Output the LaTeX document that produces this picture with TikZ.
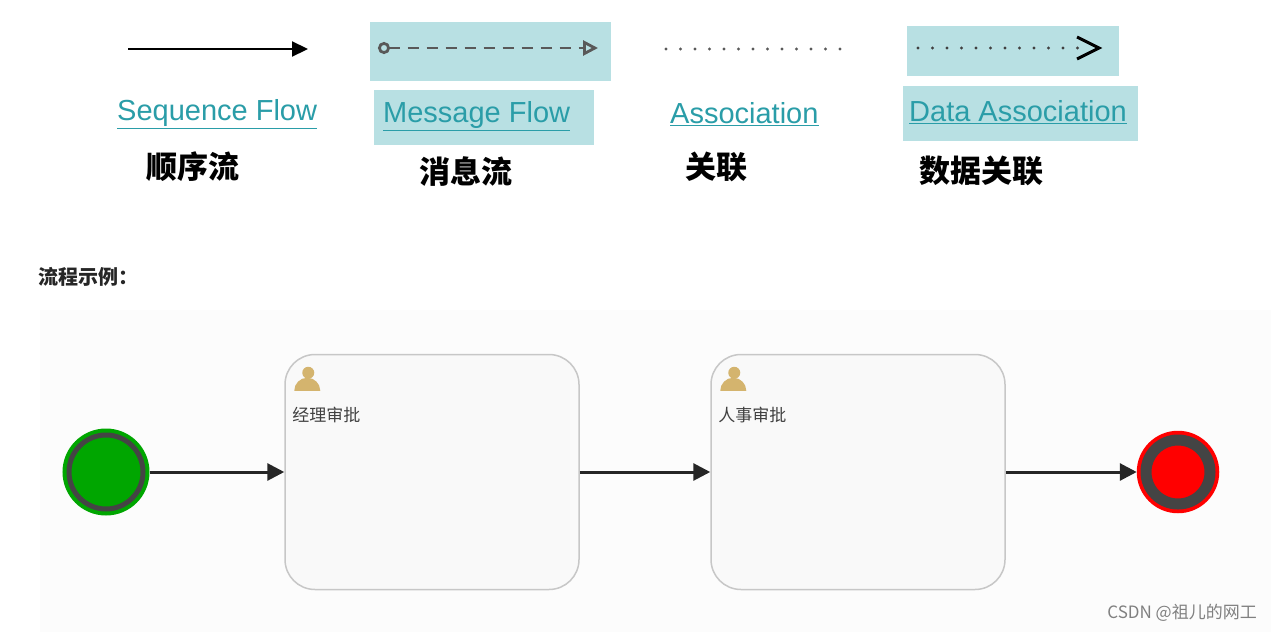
\documentclass[tikz,border=0pt]{standalone}
\usepackage{fontspec}
\setmainfont{Liberation Sans}
\newfontfamily\cjk{Noto Sans CJK SC}
\usetikzlibrary{arrows.meta}
\definecolor{teal1}{HTML}{B8E0E3}
\definecolor{link}{HTML}{2A9DA8}
\definecolor{ring}{HTML}{444444}
\definecolor{person}{HTML}{D4B46E}
\begin{document}
\begin{tikzpicture}[x=1pt,y=-1pt,
  hl/.style={fill=teal1,draw=none},
  lnk/.style={text=link,font=\fontsize{29}{30}\selectfont,anchor=west,inner sep=0pt},
  zh/.style={font=\cjk\bfseries\fontsize{31}{33}\selectfont,inner sep=0pt},
  task/.style={draw=black!22,fill=black!2.5,rounded corners=30pt,line width=1.5pt,minimum width=294pt,minimum height=235pt,inner sep=0pt},
  flow/.style={line width=3pt,draw=black!85,-{Triangle[length=17pt,width=17pt]}},
  tlab/.style={font=\cjk\fontsize{17}{18}\selectfont,text=black!75,anchor=west,inner sep=0pt}]
\useasboundingbox (0,0) rectangle (1271,632);
\fill[white] (0,0) rectangle (1271,632);
\fill[blue!3!black!1] (40,310) rectangle (1271,632);
% legend
\coordinate (s1) at (128,49); \coordinate (s2) at (308,49);
\draw[line width=2.2pt,-{Triangle[length=16pt,width=15pt]}] (s1) -- (s2);
\node[lnk] (sf) at (117,114) {\underline{Sequence Flow}};
\node[zh] (z1) at (193,167) {顺序流};
\fill[hl] (370,22) rectangle (611,81);
\coordinate (m1) at (378,48); \coordinate (m2) at (598,48);
\draw[line width=2.8pt,black!65,dash pattern=on 11pt off 8pt,{Circle[open,length=12pt,width=12pt]}-{Triangle[open,length=15pt,width=15pt]}] (m1) -- (m2);
\fill[hl] (374,90) rectangle (594,145);
\node[lnk] (mf) at (383,116) {\underline{Message Flow}};
\node[zh] (z2) at (466,172) {消息流};
\coordinate (a1) at (666,49); \coordinate (a2) at (842,49);
\draw[line width=3.2pt,black!65,line cap=round,dash pattern=on 0pt off 14.5pt] (a1) -- (a2);
\node[lnk] (as) at (670,114) {\underline{Association}};
\node[zh] (z3) at (716,167) {关联};
\fill[hl] (907,26) rectangle (1119,76);
\coordinate (d1) at (918,48); \coordinate (d2) at (1100,48);
\draw[line width=3.2pt,black!75,line cap=round,dash pattern=on 0pt off 14.5pt] (d1) -- (1090,48);
\draw[line width=3pt,line join=miter] (1077,37) -- (1099,48) -- (1077,59);
\fill[hl] (903,86) rectangle (1138,141);
\node[lnk] (da) at (909,112) {\underline{Data Association}};
\node[zh] (z4) at (981,171) {数据关联};
\node[font=\cjk\bfseries\fontsize{20}{22}\selectfont,anchor=west,inner sep=0pt,text=black!85] (ex) at (38,277) {流程示例：};
% process
\node[circle,fill=green!65!black,draw=green!65!black,line width=3pt,minimum size=84pt,inner sep=0pt] (start) at (106,472) {};
\draw[ring,line width=5pt] (start.center) circle (37pt);
\node[task] (t1) at (432,472) {};
\node[task] (t2) at (858,472) {};
\node[circle,fill=red,draw=red,line width=2.5pt,minimum size=80pt,inner sep=0pt] (end) at (1178,472) {};
\draw[ring,line width=11pt] (end.center) circle (32pt);
\foreach \t/\l in {t1/经理审批,t2/人事审批}{
  \node[tlab] (\t l) at ([xshift=8pt,yshift=-61pt]\t.north west) {\l};
  \fill[person] ([xshift=24pt,yshift=-19pt]\t.north west) circle (6pt);
  \fill[person] ([xshift=10pt,yshift=-37pt]\t.north west) arc[start angle=180,end angle=0,radius=13pt] -- cycle;
}
\draw[flow] (start) -- (t1);
\draw[flow] (t1) -- (t2);
\draw[flow] (t2) -- (end);
\node[font=\cjk\fontsize{17}{18}\selectfont,text=black!50,anchor=east,inner sep=0pt] (wm) at (1257,613) {CSDN @祖儿的网工};
\end{tikzpicture}
\end{document}
